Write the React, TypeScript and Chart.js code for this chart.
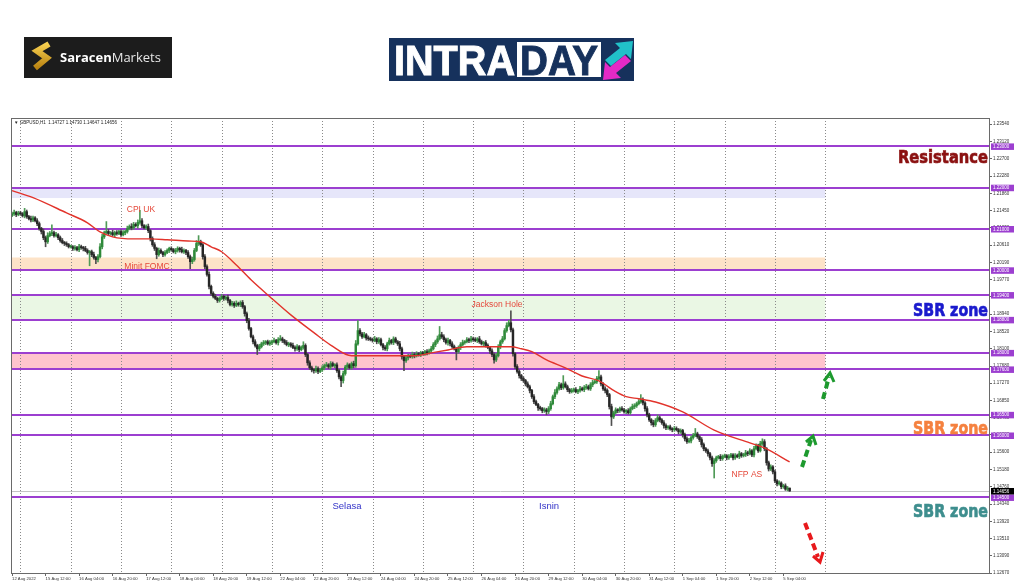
import React, { useEffect, useRef } from "react";
import { Chart, registerables } from "chart.js";
Chart.register(...registerables);

// ---------- DATA ----------
const symbolHeader = "\u25BC GBPUSD,H1  1.14727 1.14730 1.14647 1.14656";
const firstOpen = 1.2133;
// hourly closes, one row per trading day (Fri 12 Aug 20:00 ... Mon 5 Sep 07:00)
const closesByDay: number[][] = [
  [1.2137, 1.2140, 1.2135, 1.2138],
  [1.2137, 1.2132, 1.2142, 1.2130, 1.2125, 1.2122, 1.2127, 1.2120, 1.2113, 1.2101, 1.2094, 1.2079, 1.2069, 1.2084, 1.2089, 1.2091, 1.2084, 1.2086, 1.2079, 1.2072, 1.2067, 1.2065, 1.2062, 1.2057],
  [1.2057, 1.2053, 1.2055, 1.2050, 1.2057, 1.2055, 1.2053, 1.2048, 1.2043, 1.2045, 1.2038, 1.2031, 1.2026, 1.2033, 1.2057, 1.2081, 1.2091, 1.2094, 1.2089, 1.2091, 1.2086, 1.2091, 1.2089, 1.2094],
  [1.2086, 1.2091, 1.2094, 1.2101, 1.2106, 1.2103, 1.2111, 1.2108, 1.2116, 1.2120, 1.2108, 1.2103, 1.2106, 1.2096, 1.2077, 1.2062, 1.2053, 1.2038, 1.2048, 1.2043, 1.2038, 1.2043, 1.2048, 1.2053],
  [1.2050, 1.2045, 1.2048, 1.2053, 1.2050, 1.2045, 1.2048, 1.2043, 1.2033, 1.2021, 1.2026, 1.2048, 1.2065, 1.2069, 1.2062, 1.2033, 1.2009, 1.1990, 1.1961, 1.1944, 1.1937, 1.1932, 1.1927, 1.1932],
  [1.1937, 1.1932, 1.1934, 1.1927, 1.1917, 1.1920, 1.1915, 1.1920, 1.1917, 1.1922, 1.1912, 1.1895, 1.1878, 1.1859, 1.1839, 1.1827, 1.1818, 1.1810, 1.1815, 1.1822, 1.1825, 1.1827, 1.1822, 1.1825],
  [1.1827, 1.1830, 1.1825, 1.1832, 1.1834, 1.1830, 1.1825, 1.1820, 1.1822, 1.1818, 1.1813, 1.1810, 1.1815, 1.1808, 1.1813, 1.1818, 1.1796, 1.1776, 1.1764, 1.1759, 1.1757, 1.1762, 1.1755, 1.1759],
  [1.1764, 1.1769, 1.1771, 1.1766, 1.1774, 1.1769, 1.1771, 1.1757, 1.1742, 1.1733, 1.1750, 1.1766, 1.1771, 1.1764, 1.1774, 1.1769, 1.1822, 1.1854, 1.1846, 1.1839, 1.1844, 1.1836, 1.1834, 1.1832],
  [1.1830, 1.1834, 1.1827, 1.1832, 1.1820, 1.1813, 1.1810, 1.1822, 1.1830, 1.1825, 1.1834, 1.1827, 1.1822, 1.1810, 1.1791, 1.1781, 1.1788, 1.1793, 1.1791, 1.1796, 1.1793, 1.1798, 1.1796, 1.1800],
  [1.1798, 1.1803, 1.1800, 1.1805, 1.1810, 1.1820, 1.1827, 1.1834, 1.1844, 1.1839, 1.1832, 1.1825, 1.1830, 1.1822, 1.1815, 1.1810, 1.1803, 1.1813, 1.1820, 1.1825, 1.1827, 1.1832, 1.1830, 1.1834],
  [1.1832, 1.1830, 1.1834, 1.1827, 1.1822, 1.1825, 1.1818, 1.1813, 1.1805, 1.1796, 1.1783, 1.1793, 1.1815, 1.1827, 1.1834, 1.1854, 1.1866, 1.1873, 1.1856, 1.1798, 1.1767, 1.1755, 1.1745, 1.1738],
  [1.1733, 1.1725, 1.1718, 1.1709, 1.1694, 1.1682, 1.1675, 1.1667, 1.1665, 1.1660, 1.1662, 1.1658, 1.1665, 1.1677, 1.1694, 1.1704, 1.1713, 1.1723, 1.1716, 1.1725, 1.1718, 1.1711, 1.1706, 1.1709],
  [1.1711, 1.1706, 1.1709, 1.1713, 1.1711, 1.1716, 1.1718, 1.1713, 1.1723, 1.1728, 1.1730, 1.1738, 1.1742, 1.1725, 1.1713, 1.1709, 1.1699, 1.1670, 1.1645, 1.1655, 1.1662, 1.1660, 1.1665, 1.1662],
  [1.1658, 1.1660, 1.1655, 1.1665, 1.1670, 1.1672, 1.1677, 1.1682, 1.1687, 1.1679, 1.1665, 1.1650, 1.1638, 1.1631, 1.1626, 1.1636, 1.1643, 1.1638, 1.1631, 1.1624, 1.1619, 1.1621, 1.1616, 1.1614],
  [1.1617, 1.1614, 1.1609, 1.1612, 1.1602, 1.1592, 1.1585, 1.1587, 1.1595, 1.1600, 1.1604, 1.1597, 1.1590, 1.1578, 1.1568, 1.1563, 1.1556, 1.1546, 1.1532, 1.1539, 1.1546, 1.1549, 1.1544, 1.1549],
  [1.1551, 1.1546, 1.1549, 1.1553, 1.1546, 1.1551, 1.1549, 1.1556, 1.1551, 1.1553, 1.1558, 1.1556, 1.1563, 1.1553, 1.1568, 1.1575, 1.1563, 1.1580, 1.1585, 1.1568, 1.1534, 1.1519, 1.1524, 1.1512],
  [1.1490, 1.1483, 1.1485, 1.1476, 1.1478, 1.1470, 1.14727, 1.14656],
];
// upper wick above the body, in pips
const wickUpByDay: number[][] = [
  [4, 6, 3, 5],
  [5, 3, 8, 4, 3, 6, 4, 3, 5, 4, 3, 6, 4, 7, 5, 19, 4, 6, 3, 4, 5, 3, 4, 3],
  [4, 3, 5, 3, 6, 4, 3, 5, 4, 3, 4, 6, 3, 5, 8, 6, 4, 24, 5, 3, 6, 4, 5, 3],
  [4, 5, 3, 6, 4, 7, 5, 4, 6, 25, 5, 3, 4, 6, 3, 4, 5, 3, 6, 4, 3, 5, 4, 3],
  [4, 3, 5, 4, 3, 6, 4, 3, 5, 4, 6, 5, 7, 15, 4, 3, 5, 4, 6, 3, 4, 5, 3, 4],
  [5, 3, 4, 6, 3, 5, 4, 6, 3, 4, 5, 3, 4, 6, 3, 4, 5, 3, 6, 4, 5, 3, 4, 5],
  [4, 6, 3, 5, 8, 4, 3, 5, 4, 3, 6, 4, 5, 3, 4, 9, 4, 3, 5, 4, 3, 6, 4, 3],
  [5, 4, 6, 3, 5, 4, 3, 5, 4, 3, 6, 4, 5, 3, 4, 6, 8, 24, 5, 4, 6, 3, 5, 4],
  [4, 6, 3, 5, 4, 3, 5, 4, 6, 3, 5, 4, 3, 6, 4, 3, 5, 4, 3, 6, 4, 5, 3, 4],
  [4, 3, 5, 4, 6, 5, 4, 7, 20, 6, 5, 4, 6, 3, 5, 4, 3, 4, 5, 6, 3, 5, 4, 6],
  [4, 5, 3, 6, 4, 3, 5, 4, 3, 5, 4, 6, 5, 4, 6, 5, 7, 6, 29, 4, 3, 5, 4, 3],
  [4, 3, 5, 4, 3, 5, 4, 3, 4, 3, 5, 4, 5, 6, 4, 7, 5, 6, 4, 20, 5, 4, 3, 5],
  [4, 5, 3, 6, 4, 5, 6, 4, 5, 6, 4, 5, 15, 4, 3, 5, 4, 3, 6, 4, 5, 3, 4, 5],
  [4, 3, 5, 4, 6, 5, 4, 5, 12, 4, 3, 5, 4, 3, 6, 5, 7, 4, 3, 5, 4, 3, 4, 3],
  [5, 4, 3, 4, 3, 4, 5, 6, 4, 5, 13, 4, 3, 5, 4, 3, 4, 3, 4, 5, 4, 3, 5, 4],
  [4, 3, 5, 4, 3, 5, 4, 6, 3, 4, 6, 4, 5, 3, 6, 5, 4, 6, 7, 5, 3, 4, 5, 3],
  [4, 3, 5, 3, 4, 5, 4, 0],
];
// lower wick below the body, in pips
const wickDnByDay: number[][] = [
  [3, 4, 5, 3],
  [4, 3, 5, 4, 3, 5, 4, 3, 5, 4, 6, 5, 12, 4, 3, 5, 4, 3, 5, 4, 3, 5, 4, 3],
  [3, 5, 4, 3, 5, 4, 6, 3, 4, 32, 5, 4, 10, 6, 3, 5, 4, 3, 5, 4, 3, 6, 4, 3],
  [4, 3, 5, 4, 3, 5, 4, 3, 6, 4, 5, 3, 4, 5, 6, 4, 5, 10, 4, 3, 5, 4, 3, 5],
  [4, 3, 5, 4, 6, 3, 4, 5, 4, 17, 5, 4, 3, 5, 4, 6, 5, 4, 6, 5, 4, 3, 5, 4],
  [3, 5, 4, 6, 3, 4, 5, 3, 4, 5, 4, 6, 5, 4, 3, 5, 4, 14, 5, 3, 4, 5, 3, 4],
  [5, 3, 4, 6, 3, 5, 4, 3, 5, 4, 3, 6, 4, 5, 3, 4, 5, 6, 4, 5, 6, 4, 5, 3],
  [4, 5, 3, 4, 6, 3, 5, 4, 5, 15, 6, 4, 5, 3, 4, 5, 4, 3, 5, 4, 3, 5, 4, 3],
  [4, 3, 5, 4, 3, 6, 4, 5, 3, 4, 5, 3, 4, 5, 6, 24, 4, 5, 3, 4, 5, 3, 4, 5],
  [3, 4, 5, 3, 4, 3, 5, 4, 3, 4, 5, 4, 6, 5, 4, 3, 20, 4, 5, 3, 4, 3, 5, 4],
  [4, 3, 5, 4, 3, 5, 4, 3, 6, 5, 8, 4, 3, 5, 4, 3, 4, 3, 5, 6, 5, 4, 6, 5],
  [4, 5, 3, 6, 4, 5, 3, 6, 4, 5, 4, 8, 5, 4, 3, 5, 4, 3, 5, 4, 3, 5, 4, 3],
  [4, 3, 5, 4, 3, 5, 4, 3, 4, 5, 3, 4, 3, 5, 4, 6, 5, 6, 21, 4, 3, 5, 4, 3],
  [4, 5, 3, 4, 3, 5, 4, 3, 4, 5, 6, 5, 4, 6, 5, 4, 3, 5, 4, 6, 5, 4, 3, 5],
  [4, 3, 5, 4, 6, 5, 4, 3, 5, 4, 3, 4, 5, 6, 5, 4, 6, 5, 7, 35, 4, 3, 5, 4],
  [3, 5, 4, 3, 5, 4, 3, 5, 4, 3, 4, 5, 3, 4, 5, 3, 4, 3, 4, 5, 6, 5, 4, 5],
  [4, 5, 3, 5, 4, 3, 4, 1],
];
// moving average, sampled at bar numbers
const maBars = [0, 10, 26, 36, 42, 48, 58, 66, 74, 84, 90, 95, 100, 107, 114, 123, 133, 144, 152, 162, 176, 192, 200, 208, 217, 229, 238, 243, 248, 255, 264, 272, 280, 288, 293, 299, 307, 320, 335, 352, 359, 371];
const maValues = [1.2193, 1.2176, 1.2139, 1.2115, 1.2093, 1.2081, 1.2076, 1.2076, 1.2074, 1.2071, 1.2069, 1.2057, 1.2045, 1.2013, 1.1977, 1.1936, 1.1892, 1.1849, 1.1819, 1.1793, 1.1793, 1.1793, 1.1800, 1.1807, 1.1815, 1.1815, 1.1815, 1.1810, 1.1803, 1.1783, 1.1764, 1.1744, 1.1732, 1.1706, 1.1694, 1.1689, 1.1681, 1.1657, 1.1613, 1.1582, 1.1570, 1.1536];
const xTickBars = [0, 16, 32, 48, 64, 80, 96, 112, 128, 144, 160, 176, 192, 208, 224, 240, 256, 272, 288, 304, 320, 336, 352, 368];
const xTickLabels = ["12 Aug 2022", "15 Aug 12:00", "16 Aug 04:00", "16 Aug 20:00", "17 Aug 12:00", "18 Aug 04:00", "18 Aug 20:00", "19 Aug 12:00", "22 Aug 04:00", "22 Aug 20:00", "23 Aug 12:00", "24 Aug 04:00", "24 Aug 20:00", "25 Aug 12:00", "26 Aug 04:00", "26 Aug 20:00", "29 Aug 12:00", "30 Aug 04:00", "30 Aug 20:00", "31 Aug 12:00", "1 Sep 04:00", "1 Sep 20:00", "2 Sep 12:00", "5 Sep 04:00"];
const daySeparatorBars = [4, 28, 52, 76, 100, 124, 148, 172, 196, 220, 244, 268, 292, 316, 340, 364, 388];
const yTickValues = [1.1267, 1.1309, 1.1351, 1.1392, 1.1434, 1.1476, 1.1518, 1.156, 1.1602, 1.1643, 1.1685, 1.1727, 1.1768, 1.181, 1.1852, 1.1894, 1.1936, 1.1977, 1.2019, 1.2061, 1.2103, 1.2145, 1.2186, 1.2228, 1.227, 1.2312, 1.2354];
const levelValues = [1.23, 1.22, 1.21, 1.2, 1.194, 1.188, 1.18, 1.176, 1.165, 1.16, 1.145];
const zoneBounds = [[1.2175, 1.22], [1.2, 1.2031], [1.188, 1.194], [1.176, 1.18]];
const zoneEndBar = 388;
const lastPrice = 1.14656;
const notes = [
  { text: "CPI UK", bar: 61.5, price: 1.2146, kind: 0 },
  { text: "Minit FOMC", bar: 64.4, price: 1.201, kind: 0 },
  { text: "Jackson Hole", bar: 231.4, price: 1.1916, kind: 0 },
  { text: "NFP AS", bar: 350.6, price: 1.1504, kind: 0 },
  { text: "Selasa", bar: 159.8, price: 1.1429, kind: 1 },
  { text: "Isnin", bar: 256.2, price: 1.1429, kind: 1 },
];

// ---------- STYLE ----------
const zoneColors = ["#e6e6fa", "#fde3c8", "#eaf7e4", "#ffc4cd"];
const noteColors = ["#e5483a", "#3434c8"];
const levelColor = "#9c3fd0";
const upColor = "#2f8a3a";
const downColor = "#262626";
const tickFont = "'Liberation Sans', Arial, sans-serif";

const closes = closesByDay.flat();
const wu = wickUpByDay.flat();
const wd = wickDnByDay.flat();
const candles = closes.map((c, i) => {
  const o = i === 0 ? firstOpen : closes[i - 1];
  return { i, o, c, hi: Math.max(o, c) + wu[i] / 10000, lo: Math.min(o, c) - wd[i] / 10000 };
});

const mt4Plugin = {
  id: "mt4",
  beforeDatasetsDraw(chart: any) {
    const { ctx, chartArea: a, scales } = chart;
    const x = scales.x, y = scales.y;
    ctx.save();
    ctx.beginPath();
    ctx.rect(a.left, a.top, a.right - a.left, a.bottom - a.top);
    ctx.clip();
    zoneBounds.forEach(([lo, hi], k) => {
      const y0 = y.getPixelForValue(hi), y1 = y.getPixelForValue(lo);
      const x1 = x.getPixelForValue(zoneEndBar);
      ctx.fillStyle = zoneColors[k];
      ctx.fillRect(a.left, y0, x1 - a.left, y1 - y0);
    });
    ctx.strokeStyle = "#8a8a8a";
    ctx.lineWidth = 1;
    ctx.setLineDash([1, 2]);
    daySeparatorBars.forEach((b) => {
      const px = Math.round(x.getPixelForValue(b)) + 0.5;
      ctx.beginPath();
      ctx.moveTo(px, a.top);
      ctx.lineTo(px, a.bottom);
      ctx.stroke();
    });
    ctx.setLineDash([]);
    const pp = Math.round(y.getPixelForValue(lastPrice)) + 0.5;
    ctx.strokeStyle = "#c4c4c4";
    ctx.beginPath();
    ctx.moveTo(a.left, pp);
    ctx.lineTo(a.right, pp);
    ctx.stroke();
    ctx.strokeStyle = levelColor;
    ctx.lineWidth = 2;
    levelValues.forEach((v) => {
      const py = Math.round(y.getPixelForValue(v));
      ctx.beginPath();
      ctx.moveTo(a.left, py);
      ctx.lineTo(a.right, py);
      ctx.stroke();
    });
    ctx.restore();
  },
  afterDraw(chart: any) {
    const { ctx, chartArea: a, scales } = chart;
    const x = scales.x, y = scales.y;
    ctx.save();
    ctx.strokeStyle = "#6a6a6a";
    ctx.lineWidth = 1;
    ctx.strokeRect(a.left + 0.5, a.top + 0.5, a.right - a.left - 1, a.bottom - a.top - 1);
    ctx.fillStyle = "#222";
    ctx.font = `4.5px ${tickFont}`;
    ctx.textBaseline = "middle";
    ctx.textAlign = "left";
    ctx.fillText(symbolHeader, a.left + 3, a.top + 5);
    const box = (v: number, fill: string) => {
      const py = y.getPixelForValue(v);
      ctx.fillStyle = fill;
      ctx.fillRect(a.right + 1, py - 3, 23, 6.5);
      ctx.fillStyle = "#fff";
      ctx.font = `4.5px ${tickFont}`;
      ctx.textAlign = "left";
      ctx.fillText(v.toFixed(5), a.right + 3, py + 0.3);
    };
    levelValues.forEach((v) => box(v, levelColor));
    box(lastPrice, "#000");
    ctx.textAlign = "center";
    notes.forEach((n) => {
      ctx.fillStyle = noteColors[n.kind];
      ctx.font = n.kind === 0 ? `8.5px ${tickFont}` : `9.5px ${tickFont}`;
      ctx.fillText(n.text, x.getPixelForValue(n.bar), y.getPixelForValue(n.price));
    });
    ctx.restore();
  },
};

function ChartCanvas() {
  const ref = useRef<HTMLCanvasElement | null>(null);
  useEffect(() => {
    if (!ref.current) return;
    const chart = new Chart(ref.current, {
      type: "bar",
      data: {
        datasets: [
          {
            type: "line",
            label: "MA",
            data: maBars.map((b, k) => ({ x: b, y: maValues[k] })),
            borderColor: "#e2332b",
            borderWidth: 1.4,
            pointRadius: 0,
            cubicInterpolationMode: "monotone",
            order: 0,
          } as any,
          {
            type: "bar",
            label: "body",
            data: candles.map((c) => ({ x: c.i, y: [c.o, c.c] })),
            backgroundColor: candles.map((c) => (c.c >= c.o ? upColor : downColor)),
            barThickness: 1.8,
            minBarLength: 1,
            grouped: false,
            borderWidth: 0,
            order: 1,
          } as any,
          {
            type: "bar",
            label: "wick",
            data: candles.map((c) => ({ x: c.i, y: [c.lo, c.hi] })),
            backgroundColor: candles.map((c) => (c.c >= c.o ? "#4f9a57" : "#505050")),
            barThickness: 1,
            grouped: false,
            borderWidth: 0,
            order: 2,
          } as any,
        ],
      },
      options: {
        responsive: false,
        maintainAspectRatio: false,
        animation: false,
        layout: { padding: { top: 118, left: 11, right: 0, bottom: 0 } },
        plugins: { legend: { display: false }, tooltip: { enabled: false } },
        scales: {
          x: {
            type: "linear",
            min: -0.5,
            max: 466.6,
            offset: false,
            grid: { display: true, drawOnChartArea: false, tickLength: 2, color: "#666", offset: false },
            border: { display: false },
            ticks: {
              autoSkip: false,
              maxRotation: 0,
              minRotation: 0,
              align: "start",
              padding: 0,
              color: "#333",
              font: { size: 4.2, family: tickFont },
              callback: (v: any) => {
                const k = xTickBars.indexOf(Number(v));
                return k >= 0 ? xTickLabels[k] : "";
              },
            },
            afterBuildTicks: (s: any) => {
              s.ticks = xTickBars.map((v) => ({ value: v }));
            },
            afterFit: (s: any) => {
              s.height = 13;
            },
          },
          y: {
            type: "linear",
            position: "right",
            min: 1.12646,
            max: 1.23688,
            grid: { display: true, drawOnChartArea: false, tickLength: 2, color: "#666" },
            border: { display: false },
            ticks: {
              padding: 1,
              color: "#333",
              font: { size: 4.5, family: tickFont },
              callback: (v: any) => Number(v).toFixed(5),
            },
            afterBuildTicks: (s: any) => {
              s.ticks = yTickValues.map((v) => ({ value: v }));
            },
            afterFit: (s: any) => {
              s.width = 34;
            },
          },
        },
      } as any,
      plugins: [mt4Plugin],
    });
    return () => chart.destroy();
  }, []);
  return <canvas ref={ref} width={1024} height={587} style={{ position: "absolute", left: 0, top: 0, width: 1024, height: 587 }} />;
}

function Overlay() {
  const big = { fontFamily: "'DejaVu Sans', sans-serif", fontWeight: 700, fontSize: 18, strokeWidth: 0.7 } as any;
  return (
    <svg width={1024} height={587} style={{ position: "absolute", left: 0, top: 0, pointerEvents: "none" }}>
      <defs>
        <linearGradient id="gold" x1="0" y1="0" x2="0" y2="1">
          <stop offset="0" stopColor="#f7cf4f" />
          <stop offset="1" stopColor="#b98312" />
        </linearGradient>
      </defs>
      {/* Saracen Markets logo */}
      <rect x={24} y={37} width={148} height={41} fill="#1c1c1c" />
      <path d="M49 44 L37 51 L47 58 L35 68" stroke="url(#gold)" strokeWidth={6} fill="none" />
      <text x={60} y={62} fontFamily="'Open Sans', sans-serif" fontSize={13} fill="#fff">
        <tspan fontWeight={700}>Saracen</tspan>
        <tspan fontWeight={400} fill="#e6e6e6">Markets</tspan>
      </text>
      {/* INTRADAY logo */}
      <rect x={389} y={38} width={245} height={43} fill="#16315c" />
      <text x={394} y={75} fontFamily="'Liberation Sans', Arial, sans-serif" fontWeight={700} fontSize={43} fill="#fff" stroke="#fff" strokeWidth={1} textLength={121} lengthAdjust="spacingAndGlyphs">INTRA</text>
      <rect x={517} y={42} width={84} height={35} fill="#fff" />
      <text x={520} y={75} fontFamily="'Liberation Sans', Arial, sans-serif" fontWeight={700} fontSize={43} fill="#16315c" stroke="#16315c" strokeWidth={1} textLength={78} lengthAdjust="spacingAndGlyphs">DAY</text>
      <polygon points="633,41 615,43 620,48 605,60 611,66 626,54 631,59" fill="#21c1c9" />
      <polygon points="603,80 621,78 616,73 631,61 625,55 610,67 605,62" fill="#e42ac6" />
      {/* right labels */}
      <text x={988} y={163} textAnchor="end" fill="#8b1111" stroke="#8b1111" textLength={90} lengthAdjust="spacingAndGlyphs" {...big}>Resistance</text>
      <text x={988} y={316} textAnchor="end" fill="#1a1acd" stroke="#1a1acd" textLength={75} lengthAdjust="spacingAndGlyphs" {...big}>SBR zone</text>
      <text x={988} y={434} textAnchor="end" fill="#f5813f" stroke="#f5813f" textLength={75} lengthAdjust="spacingAndGlyphs" {...big}>SBR zone</text>
      <text x={988} y={517} textAnchor="end" fill="#3e8e8e" stroke="#3e8e8e" textLength={75} lengthAdjust="spacingAndGlyphs" {...big}>SBR zone</text>
      {/* dashed direction arrows */}
      <line x1={823} y1={399} x2={829} y2={377} stroke="#1d9a2e" strokeWidth={4} strokeDasharray="7 4" />
      <polyline points="824,381 830,373 834,382" stroke="#1d9a2e" strokeWidth={3} fill="none" />
      <line x1={802} y1={467} x2={811} y2={440} stroke="#1d9a2e" strokeWidth={4} strokeDasharray="7 4" />
      <polyline points="806,442 813,436 816,445" stroke="#1d9a2e" strokeWidth={3} fill="none" />
      <line x1={805} y1={523} x2={818} y2={557} stroke="#e8191c" strokeWidth={4} strokeDasharray="7 4" />
      <polyline points="813,556 820,562 823,552" stroke="#e8191c" strokeWidth={3} fill="none" />
    </svg>
  );
}

export default function App() {
  return (
    <div style={{ position: "absolute", left: 0, top: 0, width: 1024, height: 587, background: "#fff", overflow: "hidden" }}>
      <ChartCanvas />
      <Overlay />
    </div>
  );
}
